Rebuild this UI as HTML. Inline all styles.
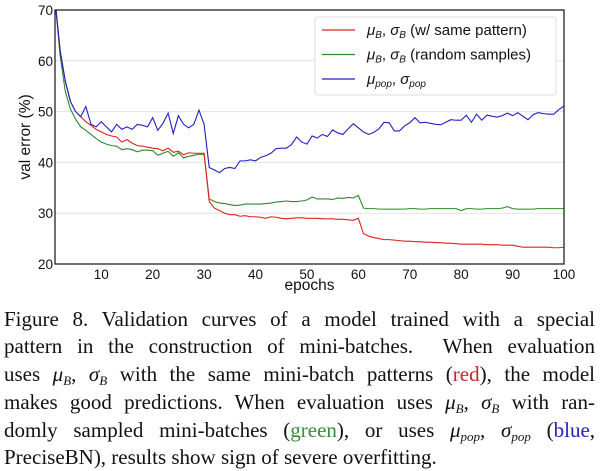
<!DOCTYPE html>
<html><head><meta charset="utf-8"><style>
body{margin:0;background:#fff;width:601px;height:471px;overflow:hidden;position:relative}
svg{position:absolute;left:0;top:0}
.cap{position:absolute;left:4px;width:591px;font-family:"Liberation Serif",serif;font-size:21px;line-height:24px;color:#111;text-align:justify;text-align-last:justify;white-space:nowrap}
.last{text-align-last:left}
i{font-style:italic}
sub{font-size:13px;vertical-align:-4px;line-height:0}
</style></head><body>
<svg id="chart" width="601" height="300" font-family="Liberation Sans, sans-serif"></svg>
<div class="cap" style="top:307px">Figure 8. Validation curves of a model trained with a special</div>
<div class="cap" style="top:334px">pattern in the construction of mini-batches. &nbsp;When evaluation</div>
<div class="cap" style="top:362px">uses <i>μ<sub>B</sub></i>, <i>σ<sub>B</sub></i> with the same mini-batch patterns (<span style="color:#c0262b">red</span>), the model</div>
<div class="cap" style="top:390px">makes good predictions. When evaluation uses <i>μ<sub>B</sub></i>, <i>σ<sub>B</sub></i> with ran-</div>
<div class="cap" style="top:418px">domly sampled mini-batches (<span style="color:#3a8a3a">green</span>), or uses <i>μ<sub>pop</sub></i>, <i>σ<sub>pop</sub></i> (<span style="color:#2222bb">blue</span>,</div>
<div class="cap last" style="top:445px">PreciseBN), results show sign of severe overfitting.</div>
<script>
const epochs = Array.from({length:100},(_, i)=>i+1);
const redVals = [72,62,56,52,50,49,48,47.3,46.5,46,45.5,45.2,45,44,44.5,43.8,43.3,43.2,43,42.8,42.7,42.3,42.8,42,42.2,41.5,41.9,41.8,41.8,41.8,
32.3,31,30.5,30,29.7,29.7,29.4,29.5,29.3,29.3,29.2,29,29.3,29.2,29,28.9,29,29.1,29.1,29,29,29,28.9,28.9,28.9,28.8,28.8,28.7,28.6,29,
26,25.5,25.2,25,24.8,24.8,24.7,24.6,24.5,24.5,24.4,24.4,24.3,24.3,24.2,24.2,24.1,24.1,24,23.9,23.9,23.9,23.9,23.9,23.8,23.8,23.8,23.7,23.7,23.7,
23.5,23.3,23.3,23.3,23.3,23.3,23.3,23.2,23.2,23.3];
const greenVals = [72,61,54,50.5,48.5,47,46.3,45.5,44.7,44,43.6,43.3,43.2,42.5,42.7,42.5,42.1,42.4,42.4,42.3,41.4,41.8,42.2,41.2,41.9,40.9,41.2,41.4,41.6,41.6,
32.8,32.3,32,31.9,31.7,31.5,31.6,31.8,31.8,31.8,31.8,31.9,32,32.2,32.3,32.4,32.3,32.3,32.4,32.6,33.2,32.8,32.8,32.8,32.7,33,32.9,33.1,33,33.5,
31,30.9,30.9,30.8,30.8,30.8,30.8,30.8,30.8,30.9,30.9,30.8,30.8,30.9,30.9,30.9,30.9,30.9,30.9,30.5,30.9,30.9,30.8,30.8,30.9,30.9,30.9,31,31.3,30.9,
30.8,30.8,30.8,30.8,30.9,30.9,30.9,30.9,30.9,30.9];
const blueVals = [72,62,56,52,50,49,51,47.5,47,48,47,46,47.5,46.5,47,46.5,47.5,47.3,47,48.8,46.3,47.7,49.7,45.7,49.2,47.5,46.8,47.5,50.3,47.5,
39,38.5,38,38.8,39,38.8,40.3,40.3,40.5,40.3,41,41.3,41.8,42.7,42.8,42.8,43.5,45,44,43.6,45.2,44.8,45.5,45.1,46.4,45.8,45.5,46.6,47.6,46.8,
46,45.5,45.9,46.6,47.9,47.8,46.2,46.2,47.2,47.8,48.8,47.8,47.9,47.7,47.5,47.4,47.9,48.4,48.3,48.3,49.3,47.9,49.5,48.3,49.3,49.1,48.9,49.2,49.7,49.2,
49.8,49.1,48.4,49.4,49.8,49.6,49.5,49.5,50.4,51.1];
const yTicks = [20,30,40,50,60,70];
const xTicks = [10,20,30,40,50,60,70,80,90,100];

const svg=document.getElementById('chart');const NS='http://www.w3.org/2000/svg';
const L=55,R=564,T=10,B=264;
const xs=e=>L+(e-1)*(R-L)/99;
const ys=v=>B-(v-20)*(B-T)/50;
function mk(tag,attrs,parent){const el=document.createElementNS(NS,tag);for(const k in attrs)el.setAttribute(k,attrs[k]);(parent||svg).appendChild(el);return el;}
const defs=mk('defs',{});const cp=mk('clipPath',{id:'clip'},defs);mk('rect',{x:L,y:T,width:R-L,height:B-T},cp);
yTicks.forEach(v=>{
  if(v>20&&v<70){const g=mk('line',{x1:L,x2:R,y1:ys(v),y2:ys(v),stroke:'#e2e2e2','stroke-width':1});
  
  }
  const t=mk('text',{x:L-2,y:ys(v)+5,'text-anchor':'end','font-size':13.5,fill:'#111'});t.textContent=v;
  
  
});
xTicks.forEach(v=>{
  const t=mk('text',{x:xs(v),y:B+15,'text-anchor':'middle','font-size':13.5,fill:'#111'});t.textContent=v;
  
  
});
function series(vals,color,name){
  const p=mk('polyline',{points:vals.map((v,i)=>xs(epochs[i])+','+ys(v)).join(' '),fill:'none',stroke:color,'stroke-width':1.1,'clip-path':'url(#clip)'});
  
  
}
series(greenVals,'#2a8a2a','series-random-samples');
series(redVals,'#e02020','series-same-pattern');
series(blueVals,'#2020c0','series-pop');
const frame=mk('rect',{x:L,y:T,width:R-L,height:B-T,fill:'none',stroke:'#222','stroke-width':1.3});


const xt=mk('text',{x:(L+R)/2,y:290,'text-anchor':'middle','font-size':15.5,fill:'#111'});xt.textContent='epochs';


const yt=mk('text',{x:0,y:0,'text-anchor':'middle','font-size':15.5,fill:'#111',transform:'translate(30,137) rotate(-90)'});yt.textContent='val error (%)';


const lg=mk('g',{});


mk('rect',{x:315,y:17,width:241,height:78,rx:3,fill:'#fff',stroke:'#ddd'},lg);
const items=[['#e02020','<tspan font-style="italic">μ</tspan><tspan font-size="10" dy="3" font-style="italic">B</tspan><tspan dy="-3">, </tspan><tspan font-style="italic">σ</tspan><tspan font-size="10" dy="3" font-style="italic">B</tspan><tspan dy="-3"> (w/ same pattern)</tspan>'],
['#2a8a2a','<tspan font-style="italic">μ</tspan><tspan font-size="10" dy="3" font-style="italic">B</tspan><tspan dy="-3">, </tspan><tspan font-style="italic">σ</tspan><tspan font-size="10" dy="3" font-style="italic">B</tspan><tspan dy="-3"> (random samples)</tspan>'],
['#2020c0','<tspan font-style="italic">μ</tspan><tspan font-size="10" dy="3" font-style="italic">pop</tspan><tspan dy="-3">, </tspan><tspan font-style="italic">σ</tspan><tspan font-size="10" dy="3" font-style="italic">pop</tspan>']];
items.forEach((it,i)=>{const y=30+i*24.5;
  mk('line',{x1:322,x2:355,y1:y,y2:y,stroke:it[0],'stroke-width':1.2},lg);
  const t=mk('text',{x:367,y:y+5,'font-size':15,fill:'#111'},lg);t.innerHTML=it[1];
  
  
});
</script>
</body></html>
